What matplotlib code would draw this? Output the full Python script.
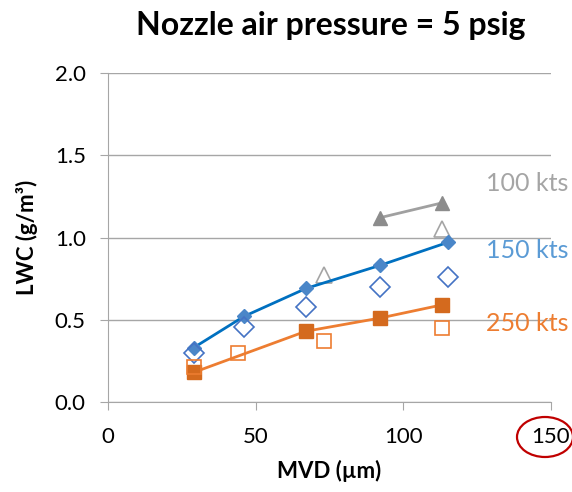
import matplotlib.pyplot as plt
from matplotlib.patches import Ellipse

plt.rcParams['font.family'] = ['Lato', 'DejaVu Sans']

# 100 kts
mvd_100_fill = [92, 113]
lwc_100_fill = [1.12, 1.21]
mvd_100_open = [73, 113]
lwc_100_open = [0.77, 1.05]

# 150 kts
mvd_150_fill = [29, 46, 67, 92, 115]
lwc_150_fill = [0.33, 0.52, 0.69, 0.83, 0.97]
mvd_150_open = [29, 46, 67, 92, 115]
lwc_150_open = [0.30, 0.455, 0.58, 0.70, 0.76]

# 250 kts
mvd_250_fill = [29, 67, 92, 113]
lwc_250_fill = [0.18, 0.43, 0.51, 0.59]
mvd_250_open = [29, 44, 73, 113]
lwc_250_open = [0.21, 0.30, 0.37, 0.45]

labels = ["100 kts", "150 kts", "250 kts"]
label_y = [1.33, 0.92, 0.48]

gray = "#A5A5A5"
blue = "#5B9BD5"
orange = "#ED7D31"

fig = plt.figure(figsize=(5.72, 4.92), dpi=100)
ax = fig.add_axes([108 / 572, 90 / 492, 443 / 572, 329 / 492])

ax.plot(mvd_100_fill, lwc_100_fill, '-^', color="#A0A0A0", lw=2,
        markerfacecolor="#8C8C8C", markeredgecolor="#8C8C8C", ms=10)
ax.plot(mvd_100_open, lwc_100_open, '^', markerfacecolor="white",
        markeredgecolor=gray, ms=12, mew=1.2, ls='none')

ax.plot(mvd_150_fill, lwc_150_fill, '-', color="#0070C0", lw=2)
ax.plot(mvd_150_fill, lwc_150_fill, 'D', color="#4A86C8", ms=7, ls='none')
ax.plot(mvd_150_open, lwc_150_open, 'D', markerfacecolor="none",
        markeredgecolor="#4472C4", ms=10, mew=1.2, ls='none')

ax.plot(mvd_250_fill, lwc_250_fill, '-', color=orange, lw=2)
ax.plot(mvd_250_fill, lwc_250_fill, 's', color="#D46A1E", ms=10, ls='none')
ax.plot(mvd_250_open, lwc_250_open, 's', markerfacecolor="none",
        markeredgecolor=orange, ms=10, mew=1.2, ls='none')

for lab, y, c in zip(labels, label_y, [gray, blue, orange]):
    ax.text(128, y, lab, color=c, fontsize=18, va='center', ha='left', clip_on=False)

ax.set_xlim(0, 150)
ax.set_ylim(0, 2.0)
ax.set_xticks([0, 50, 100, 150])
ax.set_yticks([0, 0.5, 1.0, 1.5, 2.0])
ax.set_yticklabels(["0.0", "0.5", "1.0", "1.5", "2.0"])
ax.grid(axis='y', color="#A6A6A6", lw=1)
ax.set_axisbelow(True)
for s in ['top', 'right']:
    ax.spines[s].set_visible(False)
for s in ['left', 'bottom']:
    ax.spines[s].set_color("#A6A6A6")
ax.tick_params(colors="#A6A6A6", labelcolor="black", labelsize=16, length=6, direction='out')
ax.tick_params(axis='x', pad=12)
ax.tick_params(axis='y', pad=10)

ax.set_xlabel("MVD (µm)", fontsize=16, fontweight='bold', labelpad=9)
ax.set_ylabel("LWC (g/m³)", fontsize=16, fontweight='bold', labelpad=12)
fig.text(0.579, 0.948, "Nozzle air pressure = 5 psig", fontsize=23, fontweight='bold',
         ha='center', va='center')

ell = Ellipse((545 / 572, 1 - 437 / 492), 56 / 572, 40 / 492, transform=fig.transFigure,
              fill=False, edgecolor="#C00000", lw=1.6)
fig.patches.append(ell)

fig.savefig("out.png", dpi=100)
